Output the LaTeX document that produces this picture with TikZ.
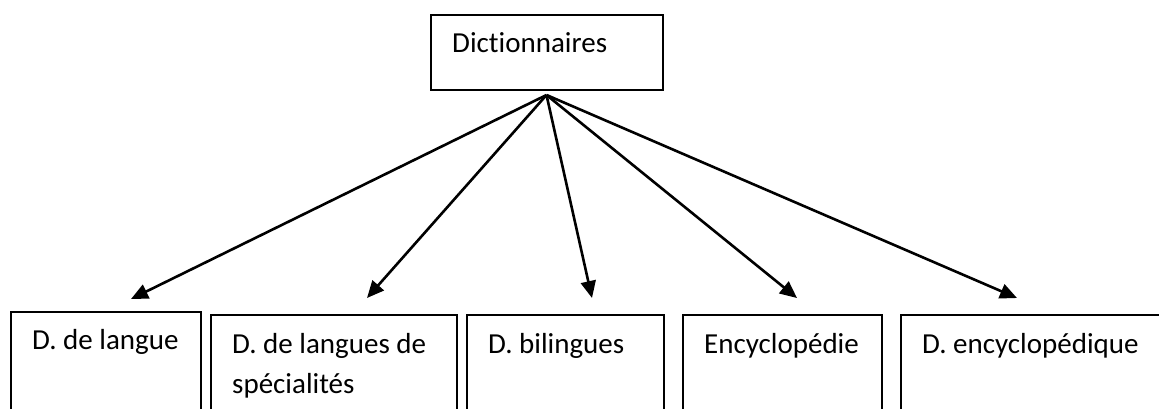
\documentclass[tikz,border=0pt]{standalone}
\usepackage{fontspec}
\setmainfont[Ligatures=NoCommon]{Carlito}
\usetikzlibrary{arrows.meta}
\begin{document}
\begin{tikzpicture}[x=1pt,y=-1pt,
  box/.style={draw=black,line width=1.7pt,inner sep=0pt,anchor=north west},
  lbl/.style={inner sep=0pt,anchor=base west,font=\fontsize{29}{39.5}\selectfont,align=left},
  arr/.style={line width=2.6pt,-{Triangle[length=17pt,width=15pt]}}]
\useasboundingbox (0,0) rectangle (1159,408);
\clip (0,0) rectangle (1159,408);
% top box
\node[box,minimum width=232pt,minimum height=75pt] (top) at (430,14) {};
\node[lbl] (ttop) at (452,52) {Dictionnaires};
% bottom boxes
\node[box,minimum width=190pt,minimum height=140pt] (b1) at (10,311) {};
\node[lbl] (t1) at (32,349) {D. de langue};
\node[box,minimum width=246pt,minimum height=140pt] (b2) at (210,314) {};
\node[lbl] (t2) at (232,393) {D. de langues de\\spécialités};
\node[box,minimum width=197pt,minimum height=140pt] (b3) at (466,314) {};
\node[lbl] (t3) at (488,353) {D. bilingues};
\node[box,minimum width=199pt,minimum height=140pt] (b4) at (682,314) {};
\node[lbl] (t4) at (704,353) {Encyclopédie};
\node[box,minimum width=280pt,minimum height=140pt] (b5) at (900,314) {};
\node[lbl] (t5) at (922,353) {D. encyclopédique};
% connectors
\coordinate (apex) at (546.5,95);
\coordinate (e1) at (131,299);
\coordinate (e2) at (367,298);
\coordinate (e3) at (592,298);
\coordinate (e4) at (797,298);
\coordinate (e5) at (1017,298);
\foreach \e in {e1,e2,e3,e4,e5} \draw[arr] (apex) -- (\e);
\end{tikzpicture}
\end{document}
